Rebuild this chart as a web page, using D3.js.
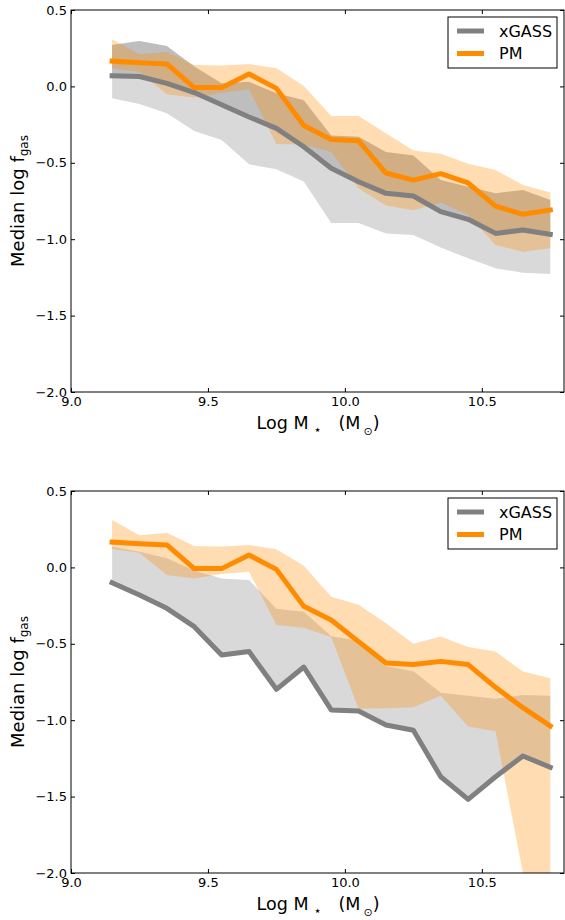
<!DOCTYPE html>
<html>
<head>
<meta charset="utf-8">
<script src="https://cdn.jsdelivr.net/npm/d3@7"></script>
<style>
  html, body { margin: 0; padding: 0; background: #fff; }
  svg { display: block; font-family: "DejaVu Sans", sans-serif; }
</style>
</head>
<body>
<svg id="chart" width="565" height="920"></svg>
<script>
// Stellar-mass bin centres (log M*)
const massBins = [9.15, 9.25, 9.35, 9.45, 9.55, 9.65, 9.75, 9.85, 9.95,
                  10.05, 10.15, 10.25, 10.35, 10.45, 10.55, 10.65, 10.75];

// Upper panel: xGASS median and its spread
const xgassMedTop = [0.07, 0.065, 0.02, -0.04, -0.12, -0.20, -0.275, -0.395, -0.536,
                     -0.624, -0.70, -0.717, -0.82, -0.87, -0.962, -0.94, -0.968];
const xgassHiTop  = [0.271, 0.297, 0.264, 0.13, 0.02, 0.03, -0.045, -0.09, -0.322,
                     -0.33, -0.43, -0.452, -0.613, -0.656, -0.70, -0.678, -0.744];
const xgassLoTop  = [-0.078, -0.115, -0.176, -0.292, -0.351, -0.51, -0.543, -0.623, -0.894,
                     -0.894, -0.962, -0.973, -1.055, -1.125, -1.19, -1.22, -1.228];

// Upper panel: PM median and its spread
const pmMedTop = [0.166, 0.155, 0.147, -0.008, -0.008, 0.081, -0.013, -0.256, -0.348,
                  -0.356, -0.567, -0.613, -0.571, -0.632, -0.783, -0.837, -0.809];
const pmHiTop  = [0.308, 0.21, 0.227, 0.14, 0.136, 0.147, 0.118, 0.003, -0.194,
                  -0.194, -0.307, -0.42, -0.44, -0.506, -0.547, -0.645, -0.695];
const pmLoTop  = [0.118, 0.096, -0.052, -0.072, -0.041, -0.019, -0.377, -0.38, -0.43,
                  -0.667, -0.78, -0.81, -0.76, -0.84, -1.038, -1.082, -1.06];

// Lower panel: xGASS median and upper spread
const xgassMedBot = [-0.1, -0.181, -0.268, -0.388, -0.573, -0.551, -0.798, -0.652, -0.933,
                     -0.94, -1.031, -1.066, -1.37, -1.518, -1.37, -1.234, -1.308];
const xgassHiBot  = [0.136, 0.103, 0.06, -0.02, -0.072, -0.082, -0.27, -0.29, -0.45,
                     -0.478, -0.645, -0.68, -0.82, -0.84, -0.86, -0.835, -0.84];

// Lower panel: PM median and its spread (no lower bound in the two top bins)
const pmMedBot = [0.166, 0.155, 0.147, -0.008, -0.008, 0.081, -0.013, -0.255, -0.344,
                  -0.486, -0.625, -0.635, -0.615, -0.636, -0.785, -0.918, -1.038];
const pmHiBot  = [0.31, 0.21, 0.227, 0.14, 0.136, 0.147, 0.118, 0.01, -0.192,
                  -0.244, -0.366, -0.499, -0.453, -0.521, -0.551, -0.682, -0.726];
const pmLoBot  = [0.12, 0.096, -0.05, -0.072, -0.043, -0.028, -0.377, -0.395, -0.455,
                  -0.925, -0.922, -0.915, -0.84, -1.042, -1.072, -Infinity, -Infinity];

// Axis ticks and labels
const xTicks = [9.0, 9.5, 10.0, 10.5];
const xTickLabels = ["9.0", "9.5", "10.0", "10.5"];
const yTicks = [0.5, 0.0, -0.5, -1.0, -1.5, -2.0];
const yTickLabels = ["0.5", "0.0", "\u22120.5", "\u22121.0", "\u22121.5", "\u22122.0"];

const seriesNames = ["xGASS", "PM"];
const seriesColors = ["#808080", "#ff8c00"];

const zip = (a, b) => a.map((v, i) => [v, b[i]]);

const panels = [
  {
    grayBands: [[xgassLoTop, xgassHiTop], [xgassMedTop, xgassHiTop]],
    pmBand: [pmLoTop, pmHiTop],
    xgassLine: xgassMedTop,
    pmLine: pmMedTop
  },
  {
    grayBands: [[xgassMedBot, xgassHiBot]],
    pmBand: [pmLoBot, pmHiBot],
    xgassLine: xgassMedBot,
    pmLine: pmMedBot
  }
];

const svg = d3.select("#chart");
const plotLeft = 71, plotRight = 564, panelH = 382;
const panelTops = [10, 491];

const x = d3.scaleLinear().domain([9.0, 10.8]).range([plotLeft, plotRight]);

panels.forEach((cfg, pi) => {
  const top = panelTops[pi];
  const bottom = top + panelH;
  const y = d3.scaleLinear().domain([-2.0, 0.5]).range([bottom, top]).clamp(true);
  const g = svg.append("g");

  const clipId = "plot-clip-" + pi;
  svg.append("clipPath").attr("id", clipId)
    .append("rect")
    .attr("x", plotLeft).attr("y", top)
    .attr("width", plotRight - plotLeft).attr("height", panelH);

  const plot = g.append("g").attr("clip-path", `url(#${clipId})`);

  const area = d3.area()
    .x(d => x(d.m))
    .y0(d => y(d.lo))
    .y1(d => y(d.hi));

  // grey spread of the xGASS sample
  cfg.grayBands.forEach(([lo, hi]) => {
    plot.append("path")
      .datum(massBins.map((m, i) => ({ m, lo: lo[i], hi: hi[i] })))
      .attr("d", area)
      .attr("fill", seriesColors[0])
      .attr("fill-opacity", 0.3);
  });

  // orange spread of the PM sample
  plot.append("path")
    .datum(massBins.map((m, i) => ({ m, lo: cfg.pmBand[0][i], hi: cfg.pmBand[1][i] })))
    .attr("d", area)
    .attr("fill", seriesColors[1])
    .attr("fill-opacity", 0.3);

  const line = d3.line().x(d => x(d[0])).y(d => y(d[1]));

  [cfg.xgassLine, cfg.pmLine].forEach((vals, si) => {
    plot.append("path")
      .datum(zip(massBins, vals))
      .attr("d", line)
      .attr("fill", "none")
      .attr("stroke", seriesColors[si])
      .attr("stroke-width", 5)
      .attr("stroke-linejoin", "round")
      .attr("stroke-linecap", "square");
  });

  // axes with inward ticks on all four sides
  const styleAxis = sel => {
    sel.select(".domain").remove();
    sel.selectAll(".tick line").attr("stroke", "#000");
    sel.selectAll(".tick text")
      .attr("fill", "#000")
      .style("font-family", "'DejaVu Sans', sans-serif")
      .style("font-size", "13px");
  };

  g.append("g").attr("transform", `translate(0,${bottom})`)
    .call(d3.axisBottom(x).tickValues(xTicks).tickSize(-4).tickPadding(5)
      .tickFormat((d, i) => xTickLabels[i]))
    .call(styleAxis);
  g.append("g").attr("transform", `translate(0,${top})`)
    .call(d3.axisTop(x).tickValues(xTicks).tickSize(-4).tickFormat(""))
    .call(styleAxis);
  g.append("g").attr("transform", `translate(${plotLeft},0)`)
    .call(d3.axisLeft(y).tickValues(yTicks).tickSize(-4).tickPadding(4)
      .tickFormat((d, i) => yTickLabels[i]))
    .call(styleAxis);
  g.append("g").attr("transform", `translate(${plotRight},0)`)
    .call(d3.axisRight(y).tickValues(yTicks).tickSize(-4).tickFormat(""))
    .call(styleAxis);

  // frame
  g.append("rect")
    .attr("x", plotLeft).attr("y", top)
    .attr("width", plotRight - plotLeft).attr("height", panelH)
    .attr("fill", "none").attr("stroke", "#000").attr("stroke-width", 1);

  // legend
  const lg = g.append("g").attr("transform", `translate(448,${top + 7})`);
  lg.append("rect").attr("x", 0).attr("y", 0).attr("width", 109).attr("height", 51)
    .attr("fill", "#fff").attr("stroke", "#000").attr("stroke-width", 1);
  seriesNames.forEach((name, i) => {
    const ly = 14 + i * 22.5;
    lg.append("line").attr("x1", 9).attr("x2", 36).attr("y1", ly).attr("y2", ly)
      .attr("stroke", seriesColors[i]).attr("stroke-width", 5);
    lg.append("text").attr("x", 51).attr("y", ly + 5.8)
      .attr("font-size", 16).attr("fill", "#000").text(name);
  });

  // x-axis title: Log M_star (M_sun), pieces placed around the axis centre
  const cx = (plotLeft + plotRight) / 2;
  const base = bottom + 37;
  g.append("text").attr("x", cx - 9).attr("y", base)
    .attr("text-anchor", "end").attr("font-size", 17.5).attr("fill", "#000")
    .text("Log M");
  g.append("text").attr("x", cx).attr("y", base + 5)
    .attr("text-anchor", "middle").attr("font-size", 13).attr("fill", "#000")
    .text("\u22C6");
  const unit = g.append("text").attr("x", cx + 21).attr("y", base)
    .attr("font-size", 17.5).attr("fill", "#000");
  unit.append("tspan").text("(M");
  unit.append("tspan").attr("font-size", 11).attr("dx", 3).attr("dy", 5.5).text("\u2299");
  unit.append("tspan").attr("dy", -5.5).text(")");

  // y-axis title
  const yt = g.append("text")
    .attr("transform", `translate(24,${(top + bottom) / 2}) rotate(-90)`)
    .attr("text-anchor", "middle").attr("font-size", 18).attr("fill", "#000");
  yt.append("tspan").text("Median log f");
  yt.append("tspan").attr("font-size", 12).attr("dy", 4).text("gas");
});
</script>
</body>
</html>
